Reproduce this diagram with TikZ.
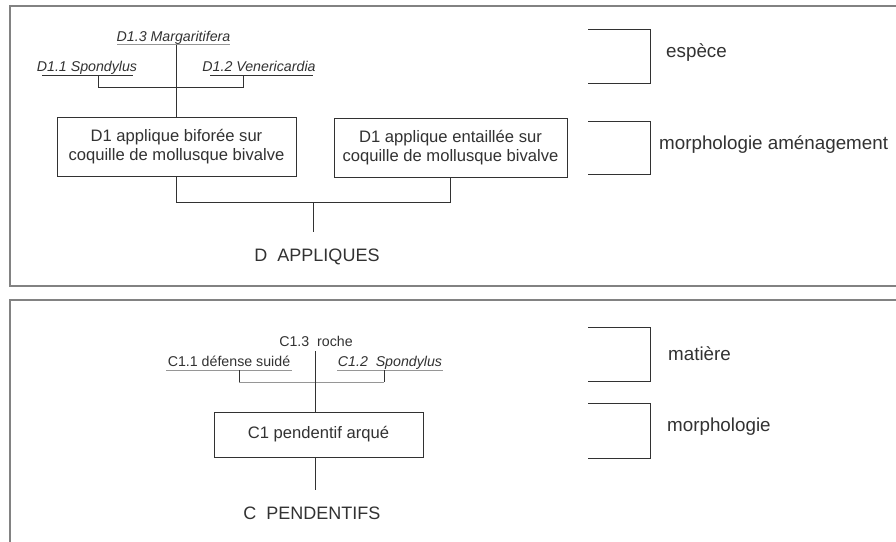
\documentclass[tikz,border=0pt]{standalone}
\usepackage{fontspec}
\setmainfont{Liberation Sans}
\definecolor{framegrey}{RGB}{130,130,130}
\definecolor{ink}{RGB}{50,50,50}
\definecolor{lightink}{RGB}{150,150,150}
\begin{document}
\begin{tikzpicture}[x=1pt,y=-1pt,
  frame/.style={draw=framegrey,line width=2pt},
  link/.style={draw=ink,line width=0.9pt},
  faint/.style={draw=lightink,line width=0.8pt},
  classbox/.style={draw=ink,line width=0.9pt,align=center,font=\fontsize{16.6}{19}\selectfont,text=ink,inner sep=0pt},
  sp/.style={font=\fontsize{14.2}{16}\selectfont\itshape,text=ink,inner sep=0pt,anchor=base},
  spu/.style={font=\fontsize{14.2}{16}\selectfont,text=ink,inner sep=0pt,anchor=base},
  level/.style={font=\fontsize{18.8}{21}\selectfont,text=ink,anchor=west,inner sep=0pt},
  title/.style={font=\fontsize{18}{21}\selectfont,text=ink,inner sep=0pt}]
\useasboundingbox (0,0) rectangle (896,541);
\fill[white] (0,0) rectangle (896,541);
\begin{scope}
\clip (0,0) rectangle (896,541);
\draw[frame] (10,6) rectangle (920,286);
\draw[frame] (10,300) rectangle (920,560);
\end{scope}

% ---------- top panel ----------
\node[sp] (d13) at (173.5,41) {D1.3 Margaritifera};
\node[sp] (d11) at (87,71.5) {D1.1 Spondylus};
\node[sp] (d12) at (259,71.5) {D1.2 Venericardia};
\coordinate (d13l) at (117,44.5); \coordinate (d13r) at (230,44.5);
\coordinate (d11l) at (42,75); \coordinate (d11r) at (133,75);
\coordinate (d12l) at (210,75); \coordinate (d12r) at (313,75);
\draw[faint] (d13l) -- (d13r);
\draw[link] (d11l) -- (d11r);
\draw[link] (d12l) -- (d12r);
\draw[link] (98,75) -- (98,87) -- (243,87) -- (243,75);

\node[classbox,minimum width=239pt,minimum height=59pt] (b1) at (176.5,146.5)
  {D1 applique biforée sur\\coquille de mollusque bivalve};
\node[classbox,minimum width=233pt,minimum height=59pt] (b2) at (450.5,147.5)
  {D1 applique entaillée sur\\coquille de mollusque bivalve};
\draw[link] (176,44.5) -- (b1.north -| 176,0);

\node[title] (dtitle) at (317,257) {D\ \ APPLIQUES};
\coordinate (djoin) at (313,202);
\draw[link] (b1.south -| 176,0) -- (176,202) -- (450,202) -- (b2.south -| 450,0);
\draw[link] (djoin) -- (313,232);

% brackets top
\draw[link] (588,29) -- (650,29) -- (650,83) -- (588,83);
\node[level] (esp) at (666,53) {espèce};
\draw[link] (588,121) -- (650,121) -- (650,174) -- (588,174);
\node[level] (morph1) at (659,145) {morphologie aménagement};

% ---------- bottom panel ----------
\node[spu] (c13) at (316,346.5) {C1.3\ \ roche};
\node[spu] (c11) at (229,366.5) {C1.1 défense suidé};
\node[sp] (c12) at (390,366.5) {C1.2\ \ Spondylus};
\draw[faint] (166,370) -- (292,370);
\draw[faint] (337,370) -- (443,370);
\draw[faint] (239,382) -- (384,382);
\draw[link] (239,370) -- (239,382);
\draw[link] (384,370) -- (384,382);

\node[classbox,minimum width=209pt,minimum height=45pt] (c1) at (318.5,434.5) {C1 pendentif arqué};
\draw[link] (315,351) -- (c1.north -| 315,0);
\draw[link] (c1.south -| 315,0) -- (315,490);
\node[title] (ctitle) at (312,513) {C\ \ PENDENTIFS};

\draw[link] (588,327) -- (650,327) -- (650,381) -- (588,381);
\node[level] (mat) at (668,354) {matière};
\draw[link] (588,403) -- (650,403) -- (650,458) -- (588,458);
\node[level] (morph2) at (667,427) {morphologie};
\end{tikzpicture}
\end{document}
